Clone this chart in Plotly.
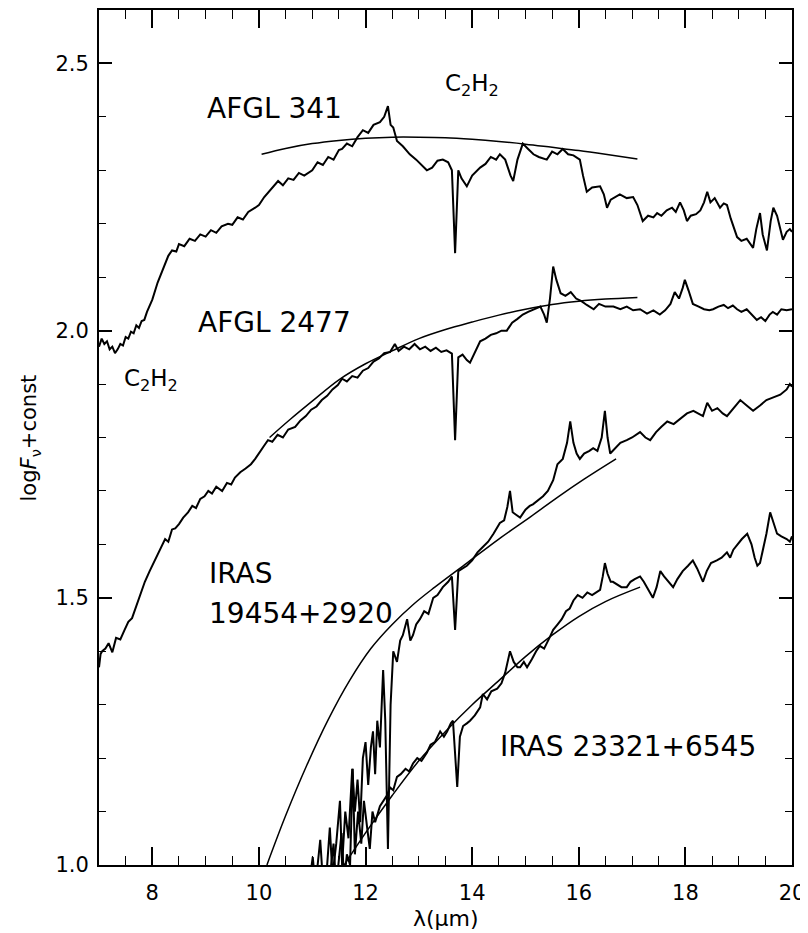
import plotly.graph_objects as go

# ---------------- data ----------------
lam_afgl341 = [7.00, 7.05, 7.10, 7.15, 7.20, 7.25, 7.30, 7.35, 7.40, 7.45, 7.50, 7.55, 7.60, 7.65, 7.70, 7.75,
               7.80, 7.85, 7.90, 8.00, 8.10, 8.18, 8.25, 8.30, 8.37, 8.45, 8.50, 8.60, 8.70, 8.80, 8.90, 9.00,
               9.10, 9.20, 9.30, 9.42, 9.50, 9.60, 9.70, 9.80, 9.93, 10.00, 10.10, 10.20, 10.30, 10.36, 10.45,
               10.55, 10.65, 10.75, 10.85, 11.00, 11.10, 11.20, 11.30, 11.40, 11.50, 11.56, 11.65, 11.75, 11.85,
               11.95, 12.05, 12.15, 12.27, 12.35, 12.42, 12.47, 12.52, 12.59, 12.70, 12.83, 12.95, 13.05, 13.15,
               13.25, 13.35, 13.45, 13.55, 13.62, 13.68, 13.74, 13.80, 13.90, 14.00, 14.15, 14.25, 14.35, 14.45,
               14.52, 14.62, 14.72, 14.77, 14.85, 14.95, 15.05, 15.15, 15.25, 15.40, 15.50, 15.60, 15.70, 15.80,
               15.90, 16.02, 16.08, 16.15, 16.25, 16.40, 16.47, 16.53, 16.60, 16.70, 16.77, 16.90, 17.02, 17.10,
               17.20, 17.30, 17.40, 17.47, 17.55, 17.65, 17.75, 17.82, 17.90, 17.97, 18.03, 18.10, 18.20, 18.28,
               18.35, 18.41, 18.47, 18.55, 18.65, 18.72, 18.78, 18.85, 18.92, 18.97, 19.05, 19.15, 19.27, 19.33,
               19.40, 19.45, 19.53, 19.60, 19.65, 19.72, 19.83, 19.90, 19.96, 20.00]
f_afgl341 = [1.970, 1.985, 1.975, 1.980, 1.965, 1.970, 1.958, 1.965, 1.975, 1.972, 1.988, 1.985, 1.998, 1.995,
             2.010, 2.005, 2.018, 2.020, 2.035, 2.058, 2.090, 2.110, 2.125, 2.140, 2.150, 2.148, 2.162, 2.158,
             2.172, 2.168, 2.180, 2.176, 2.188, 2.183, 2.195, 2.200, 2.198, 2.212, 2.208, 2.222, 2.230, 2.235,
             2.250, 2.262, 2.275, 2.280, 2.272, 2.285, 2.282, 2.295, 2.290, 2.300, 2.315, 2.310, 2.325, 2.320,
             2.338, 2.340, 2.350, 2.345, 2.362, 2.375, 2.370, 2.385, 2.390, 2.400, 2.420, 2.385, 2.380, 2.355,
             2.345, 2.330, 2.320, 2.310, 2.300, 2.305, 2.318, 2.320, 2.315, 2.300, 2.145, 2.300, 2.285, 2.270,
             2.290, 2.305, 2.312, 2.325, 2.320, 2.330, 2.320, 2.290, 2.280, 2.320, 2.350, 2.340, 2.330, 2.325,
             2.320, 2.335, 2.330, 2.340, 2.330, 2.328, 2.320, 2.290, 2.260, 2.268, 2.270, 2.255, 2.230, 2.245,
             2.250, 2.255, 2.248, 2.250, 2.235, 2.205, 2.215, 2.212, 2.220, 2.215, 2.225, 2.230, 2.222, 2.240,
             2.225, 2.205, 2.215, 2.218, 2.225, 2.240, 2.260, 2.240, 2.248, 2.230, 2.238, 2.235, 2.210, 2.190,
             2.175, 2.168, 2.172, 2.155, 2.190, 2.220, 2.180, 2.150, 2.205, 2.230, 2.215, 2.170, 2.185, 2.190,
             2.185]

lam_afgl2477 = [7.00, 7.03, 7.06, 7.12, 7.18, 7.25, 7.32, 7.40, 7.48, 7.55, 7.62, 7.70, 7.78, 7.86, 7.95, 8.02,
                8.10, 8.17, 8.24, 8.30, 8.37, 8.43, 8.50, 8.58, 8.67, 8.75, 8.82, 8.90, 8.98, 9.05, 9.12, 9.20,
                9.31, 9.40, 9.48, 9.55, 9.65, 9.75, 9.85, 9.93, 10.02, 10.10, 10.17, 10.25, 10.35, 10.45, 10.55,
                10.68, 10.78, 10.88, 10.98, 11.08, 11.18, 11.28, 11.38, 11.48, 11.56, 11.65, 11.75, 11.85, 11.95,
                12.05, 12.15, 12.25, 12.35, 12.46, 12.55, 12.62, 12.72, 12.82, 12.92, 13.02, 13.12, 13.22, 13.32,
                13.42, 13.52, 13.62, 13.68, 13.74, 13.82, 13.90, 13.96, 14.05, 14.15, 14.25, 14.35, 14.45, 14.55,
                14.65, 14.75, 14.85, 14.95, 15.05, 15.15, 15.28, 15.35, 15.40, 15.46, 15.52, 15.58, 15.66, 15.75,
                15.85, 15.95, 16.05, 16.15, 16.28, 16.38, 16.50, 16.65, 16.78, 16.90, 17.02, 17.15, 17.28, 17.40,
                17.52, 17.62, 17.72, 17.80, 17.88, 17.95, 17.99, 18.06, 18.14, 18.25, 18.35, 18.45, 18.52, 18.62,
                18.72, 18.80, 18.89, 18.97, 19.05, 19.15, 19.25, 19.34, 19.42, 19.50, 19.58, 19.64, 19.72, 19.80,
                19.90, 20.00]
f_afgl2477 = [1.370, 1.395, 1.400, 1.405, 1.415, 1.398, 1.425, 1.422, 1.440, 1.455, 1.462, 1.485, 1.505, 1.530,
              1.550, 1.565, 1.580, 1.598, 1.610, 1.605, 1.628, 1.630, 1.638, 1.650, 1.660, 1.672, 1.668, 1.685,
              1.690, 1.700, 1.695, 1.708, 1.700, 1.715, 1.712, 1.725, 1.735, 1.742, 1.750, 1.760, 1.772, 1.785,
              1.795, 1.792, 1.805, 1.800, 1.815, 1.820, 1.832, 1.840, 1.852, 1.858, 1.870, 1.878, 1.890, 1.898,
              1.910, 1.905, 1.915, 1.912, 1.925, 1.930, 1.942, 1.948, 1.958, 1.960, 1.975, 1.962, 1.970, 1.965,
              1.975, 1.965, 1.970, 1.962, 1.968, 1.960, 1.963, 1.957, 1.795, 1.950, 1.955, 1.945, 1.940, 1.960,
              1.980, 1.985, 1.992, 1.995, 2.000, 2.000, 2.015, 2.022, 2.030, 2.035, 2.040, 2.045, 2.030, 2.015,
              2.060, 2.120, 2.095, 2.070, 2.065, 2.072, 2.060, 2.055, 2.048, 2.040, 2.050, 2.045, 2.045, 2.040,
              2.045, 2.038, 2.040, 2.032, 2.038, 2.030, 2.038, 2.050, 2.072, 2.060, 2.080, 2.095, 2.075, 2.050,
              2.045, 2.040, 2.038, 2.040, 2.045, 2.048, 2.042, 2.047, 2.040, 2.035, 2.040, 2.030, 2.020, 2.025,
              2.018, 2.030, 2.035, 2.030, 2.040, 2.038, 2.040]

lam_iras19454 = [10.60, 10.80, 10.95, 11.01, 11.06, 11.15, 11.20, 11.28, 11.33, 11.38, 11.45, 11.52, 11.56, 11.62,
                 11.68, 11.75, 11.80, 11.85, 11.90, 11.95, 12.00, 12.05, 12.10, 12.14, 12.18, 12.22, 12.27, 12.33,
                 12.37, 12.42, 12.47, 12.52, 12.59, 12.65, 12.70, 12.78, 12.84, 12.89, 12.95, 13.02, 13.10, 13.18,
                 13.27, 13.35, 13.45, 13.55, 13.62, 13.68, 13.74, 13.82, 13.90, 14.00, 14.10, 14.20, 14.30, 14.40,
                 14.52, 14.60, 14.66, 14.71, 14.76, 14.83, 14.90, 15.00, 15.08, 15.14, 15.22, 15.33, 15.42, 15.52,
                 15.60, 15.70, 15.78, 15.84, 15.90, 15.96, 16.02, 16.10, 16.20, 16.27, 16.35, 16.43, 16.49, 16.54,
                 16.59, 16.68, 16.78, 16.90, 17.00, 17.15, 17.25, 17.34, 17.45, 17.55, 17.66, 17.78, 17.90, 18.03,
                 18.15, 18.25, 18.33, 18.41, 18.50, 18.60, 18.70, 18.78, 18.90, 19.03, 19.15, 19.27, 19.40, 19.52,
                 19.65, 19.78, 19.90, 19.96, 20.00]
f_iras19454 = [0.90, 0.95, 0.97, 1.015, 0.96, 1.047, 0.97, 1.00, 1.07, 0.98, 1.04, 1.12, 1.00, 1.10, 1.05, 1.18,
               1.10, 1.16, 1.08, 1.20, 1.23, 1.15, 1.22, 1.25, 1.17, 1.27, 1.22, 1.365, 1.27, 1.03, 1.30, 1.40,
               1.38, 1.42, 1.43, 1.46, 1.42, 1.43, 1.45, 1.46, 1.475, 1.47, 1.50, 1.505, 1.52, 1.53, 1.54, 1.44,
               1.55, 1.555, 1.56, 1.57, 1.585, 1.595, 1.605, 1.62, 1.64, 1.645, 1.67, 1.70, 1.66, 1.655, 1.65,
               1.665, 1.672, 1.675, 1.682, 1.69, 1.70, 1.72, 1.75, 1.76, 1.79, 1.83, 1.79, 1.77, 1.76, 1.77,
               1.775, 1.78, 1.775, 1.80, 1.85, 1.80, 1.77, 1.78, 1.79, 1.795, 1.80, 1.81, 1.80, 1.795, 1.81,
               1.82, 1.83, 1.825, 1.835, 1.845, 1.85, 1.845, 1.84, 1.865, 1.85, 1.855, 1.845, 1.84, 1.855,
               1.87, 1.86, 1.85, 1.86, 1.87, 1.875, 1.88, 1.89, 1.90, 1.895]

lam_iras23321 = [11.30, 11.40, 11.45, 11.55, 11.60, 11.65, 11.71, 11.76, 11.80, 11.86, 11.92, 11.97, 12.03, 12.08,
                 12.13, 12.18, 12.27, 12.33, 12.40, 12.46, 12.52, 12.59, 12.66, 12.75, 12.82, 12.89, 12.97, 13.05,
                 13.15, 13.22, 13.30, 13.40, 13.47, 13.53, 13.60, 13.64, 13.68, 13.72, 13.77, 13.83, 13.90, 13.96,
                 14.05, 14.15, 14.20, 14.28, 14.36, 14.47, 14.55, 14.62, 14.71, 14.78, 14.85, 14.90, 14.97, 15.03,
                 15.12, 15.20, 15.27, 15.35, 15.45, 15.52, 15.60, 15.68, 15.76, 15.83, 15.90, 15.98, 16.07, 16.16,
                 16.25, 16.33, 16.40, 16.45, 16.49, 16.54, 16.60, 16.64, 16.72, 16.80, 16.90, 16.97, 17.05, 17.15,
                 17.22, 17.30, 17.39, 17.46, 17.53, 17.60, 17.68, 17.77, 17.85, 17.95, 18.05, 18.14, 18.22, 18.28,
                 18.33, 18.40, 18.48, 18.59, 18.68, 18.78, 18.84, 18.90, 18.98, 19.06, 19.16, 19.24, 19.30, 19.35,
                 19.40, 19.46, 19.52, 19.59, 19.65, 19.72, 19.80, 19.90, 19.96, 20.00]
f_iras23321 = [0.95, 1.04, 0.96, 1.06, 0.97, 1.02, 1.00, 1.18, 1.02, 1.10, 1.04, 1.12, 1.07, 1.03, 1.10, 1.08,
               1.11, 1.12, 1.13, 1.145, 1.14, 1.165, 1.17, 1.18, 1.175, 1.19, 1.20, 1.195, 1.21, 1.225, 1.23,
               1.25, 1.24, 1.25, 1.265, 1.27, 1.21, 1.146, 1.24, 1.26, 1.265, 1.27, 1.28, 1.295, 1.32, 1.31,
               1.325, 1.33, 1.34, 1.36, 1.40, 1.38, 1.37, 1.37, 1.38, 1.37, 1.385, 1.40, 1.41, 1.405, 1.425,
               1.44, 1.45, 1.46, 1.475, 1.48, 1.495, 1.505, 1.50, 1.51, 1.505, 1.51, 1.515, 1.54, 1.565, 1.545,
               1.53, 1.53, 1.525, 1.52, 1.52, 1.53, 1.535, 1.54, 1.53, 1.515, 1.50, 1.52, 1.55, 1.54, 1.53, 1.52,
               1.535, 1.55, 1.56, 1.57, 1.555, 1.54, 1.53, 1.55, 1.565, 1.57, 1.575, 1.585, 1.575, 1.59, 1.60,
               1.61, 1.62, 1.60, 1.575, 1.56, 1.565, 1.59, 1.62, 1.66, 1.64, 1.62, 1.615, 1.61, 1.605, 1.615]

# smooth model (fit) curves
lam_fit341 = [10.05, 10.5, 11.0, 11.5, 12.0, 12.5, 13.0, 13.5, 14.0, 14.5, 15.0, 15.5, 16.0, 16.5, 17.1]
f_fit341 = [2.330, 2.341, 2.350, 2.356, 2.360, 2.362, 2.362, 2.361, 2.358, 2.354, 2.349, 2.343, 2.337, 2.330, 2.321]

lam_fit2477 = [10.2, 10.6, 11.0, 11.5, 12.0, 12.5, 13.0, 13.5, 14.0, 14.5, 15.0, 15.5, 16.0, 16.5, 17.1]
f_fit2477 = [1.800, 1.835, 1.868, 1.908, 1.938, 1.962, 1.985, 2.002, 2.016, 2.029, 2.040, 2.049, 2.055, 2.059, 2.062]

lam_fit19454 = [10.15, 10.5, 10.9, 11.3, 11.7, 12.1, 12.5, 12.9, 13.3, 13.9, 14.5, 15.1, 15.6, 16.1, 16.7]
f_fit19454 = [1.000, 1.092, 1.187, 1.272, 1.345, 1.405, 1.450, 1.488, 1.520, 1.565, 1.610, 1.652, 1.688, 1.722,
              1.760]

lam_fit23321 = [11.6, 12.0, 12.5, 13.0, 13.5, 14.0, 14.5, 15.0, 15.5, 16.0, 16.5, 17.15]
f_fit23321 = [1.00, 1.06, 1.13, 1.195, 1.25, 1.30, 1.345, 1.39, 1.43, 1.465, 1.493, 1.52]

x_ticks = [8, 10, 12, 14, 16, 18, 20]
y_ticks = [1.0, 1.5, 2.0, 2.5]

# ---------------- figure ----------------
FONT = "DejaVu Sans"
fig = go.Figure()

for lam, f in [(lam_afgl341, f_afgl341), (lam_afgl2477, f_afgl2477),
               (lam_iras19454, f_iras19454), (lam_iras23321, f_iras23321)]:
    fig.add_trace(go.Scatter(x=lam, y=f, mode="lines", line=dict(color="black", width=2),
                             showlegend=False, hoverinfo="skip"))

for lam, f in [(lam_fit341, f_fit341), (lam_fit2477, f_fit2477),
               (lam_fit19454, f_fit19454), (lam_fit23321, f_fit23321)]:
    fig.add_trace(go.Scatter(x=lam, y=f, mode="lines", line=dict(color="black", width=1.5, shape="spline"),
                             showlegend=False, hoverinfo="skip"))

labels = [
    ("AFGL 341", 10.30, 2.416, "center", 28),
    ("C<sub>2</sub>H<sub>2</sub>", 14.0, 2.459, "center", 23),
    ("AFGL 2477", 10.30, 2.016, "center", 28),
    ("C<sub>2</sub>H<sub>2</sub>", 7.98, 1.907, "center", 23),
    ("IRAS", 9.03, 1.546, "left", 28),
    ("19454+2920", 9.03, 1.471, "left", 28),
    ("IRAS 23321+6545", 14.49, 1.221, "left", 28),
]
for text, x, y, anchor, size in labels:
    fig.add_annotation(x=x, y=y, xref="x", yref="y", text=text, showarrow=False,
                       xanchor=anchor, yanchor="middle", font=dict(family=FONT, size=size, color="black"))

# axis titles placed in paper coordinates
fig.add_annotation(x=0.5, y=-0.062, xref="paper", yref="paper", text="λ(μm)", showarrow=False,
                   xanchor="center", yanchor="middle", font=dict(family=FONT, size=22, color="black"))
fig.add_annotation(x=-0.0996, y=0.5, xref="paper", yref="paper", text="log<i>F</i><sub>ν</sub>+const",
                   showarrow=False, textangle=-90, xanchor="center", yanchor="middle",
                   font=dict(family=FONT, size=21, color="black"))

# the page body has an 8px margin, so the figure is 8px smaller and shifted
fig.update_layout(
    width=800, height=925,
    margin=dict(l=91, r=16, t=2, b=68, autoexpand=False),
    plot_bgcolor="white", paper_bgcolor="white",
    font=dict(family=FONT, color="black"),
    xaxis=dict(range=[7, 20], tickmode="array", tickvals=x_ticks, ticktext=[str(v) for v in x_ticks],
               ticks="inside", ticklen=18, tickwidth=1.5, tickcolor="black",
               minor=dict(tick0=7, dtick=0.5, ticks="inside", ticklen=9, tickwidth=1.2, tickcolor="black"),
               showline=True, linewidth=2, linecolor="black", mirror="allticks", automargin=False,
               showgrid=False, zeroline=False, tickfont=dict(family=FONT, size=21),
               ticklabelstandoff=8),
    yaxis=dict(range=[1.0, 2.6], tickmode="array", tickvals=y_ticks, ticktext=[f"{v:.1f}" for v in y_ticks],
               ticks="inside", ticklen=13, tickwidth=1.5, tickcolor="black",
               minor=dict(tick0=1.0, dtick=0.1, ticks="inside", ticklen=7, tickwidth=1.2, tickcolor="black"),
               showline=True, linewidth=2, linecolor="black", mirror="allticks", automargin=False,
               showgrid=False, zeroline=False, tickfont=dict(family=FONT, size=21),
               ticklabelstandoff=4),
)

fig.write_html("out.html")
